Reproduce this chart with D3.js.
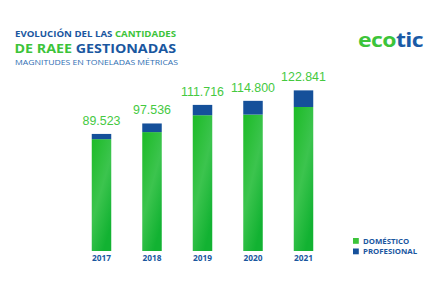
<!DOCTYPE html>
<html>
<head>
<meta charset="utf-8">
<script src="https://cdn.jsdelivr.net/npm/d3@7"></script>
<style>
  html, body { margin: 0; padding: 0; background: #fff; }
  svg { display: block; }
</style>
</head>
<body>
<div id="chart"></div>
<script>
// tonnes per year
var years = ["2017", "2018", "2019", "2020", "2021"];
var domestico = [85500, 90900, 103800, 104300, 110100];
var profesional = [4000, 6600, 7900, 10500, 12700];
var totales = [89523, 97536, 111716, 114800, 122841];
var seriesNames = ["DOMÉSTICO", "PROFESIONAL"];

var width = 440, height = 290;
var green = "#3cc43a", blue = "#1a579f", barBlue = "#15509a";

var svg = d3.select("#chart").append("svg")
    .attr("width", width)
    .attr("height", height);

// green bars have a soft gradient
var defs = svg.append("defs");
var grad = defs.append("linearGradient")
    .attr("id", "greenGrad")
    .attr("x1", "0").attr("y1", "0").attr("x2", "0.6").attr("y2", "1");
grad.append("stop").attr("offset", "0%").attr("stop-color", "#1cbb26");
grad.append("stop").attr("offset", "55%").attr("stop-color", "#3cc44e");
grad.append("stop").attr("offset", "100%").attr("stop-color", "#12b232");

var x = d3.scaleBand()
    .domain(years)
    .range([76.25, 328.75])
    .paddingInner(0.614)
    .paddingOuter(0.307);

var y = d3.scaleLinear()
    .domain([0, 130000])
    .range([251, 251 - 130 * 1.308]);

var rows = years.map(function(yr, i) {
  return {year: yr, DOMÉSTICO: domestico[i], PROFESIONAL: profesional[i], total: totales[i]};
});
var stacked = d3.stack().keys(seriesNames)(rows);
var fills = {"DOMÉSTICO": "url(#greenGrad)", "PROFESIONAL": barBlue};

svg.append("g").selectAll("g")
    .data(stacked)
    .enter().append("g")
    .attr("fill", function(d) { return fills[d.key]; })
    .selectAll("rect")
    .data(function(d) { return d; })
    .enter().append("rect")
    .attr("x", function(d) { return x(d.data.year); })
    .attr("width", x.bandwidth())
    .attr("y", function(d) { return y(d[1]); })
    .attr("height", function(d) { return y(d[0]) - y(d[1]); });

// totals above bars, spanish number format
var es = d3.formatLocale({decimal: ",", thousands: ".", grouping: [3], currency: ["", " €"]});
var fmt = es.format(",");

svg.append("g").selectAll("text")
    .data(rows)
    .enter().append("text")
    .attr("x", function(d) { return x(d.year) + x.bandwidth() / 2; })
    .attr("y", function(d) { return y(d.DOMÉSTICO + d.PROFESIONAL) - 9; })
    .attr("text-anchor", "middle")
    .style("font", "12.4px 'Liberation Sans', Arial, sans-serif")
    .style("fill", "#45c93f")
    .text(function(d) { return fmt(d.total); });

// year labels
svg.append("g").selectAll("text")
    .data(years)
    .enter().append("text")
    .attr("x", function(d) { return x(d) + x.bandwidth() / 2; })
    .attr("y", 260.5)
    .attr("text-anchor", "middle")
    .style("font", "bold 8.3px 'Open Sans', sans-serif")
    .style("fill", blue)
    .text(function(d) { return d; });

// titles
var t1 = svg.append("text")
    .attr("x", 15).attr("y", 37.3)
    .attr("textLength", 161).attr("lengthAdjust", "spacingAndGlyphs")
    .style("font", "bold 9px 'Open Sans', sans-serif");
t1.append("tspan").style("fill", blue).text("EVOLUCIÓN DEL LAS ");
t1.append("tspan").style("fill", green).text("CANTIDADES");

var t2 = svg.append("text")
    .attr("x", 14.5).attr("y", 53)
    .attr("textLength", 161.5).attr("lengthAdjust", "spacingAndGlyphs")
    .style("font", "bold 12.5px 'Open Sans', sans-serif");
t2.append("tspan").style("fill", green).text("DE RAEE ");
t2.append("tspan").style("fill", blue).text("GESTIONADAS");

svg.append("text")
    .attr("x", 15).attr("y", 65.3)
    .attr("textLength", 163).attr("lengthAdjust", "spacingAndGlyphs")
    .style("font", "7.6px 'Open Sans', sans-serif")
    .style("fill", "#2f6fb3")
    .text("MAGNITUDES EN TONELADAS MÉTRICAS");

// logo
var logo = svg.append("text")
    .attr("x", 358).attr("y", 46.7)
    .attr("textLength", 65).attr("lengthAdjust", "spacingAndGlyphs")
    .style("font", "bold 19px 'Open Sans', sans-serif")
    .style("letter-spacing", "-0.5px");
logo.append("tspan").style("fill", "#3cc43a").text("eco");
logo.append("tspan").style("fill", "#1a5aa6").text("tic");

// legend
var legColors = [green, barBlue];
var leg = svg.append("g").selectAll("g")
    .data(seriesNames)
    .enter().append("g")
    .attr("transform", function(d, i) { return "translate(353," + (238 + i * 10.5) + ")"; });
leg.append("rect")
    .attr("width", 5.8).attr("height", 5.8)
    .attr("fill", function(d, i) { return legColors[i]; });
leg.append("text")
    .attr("x", 10).attr("y", 5.6)
    .style("font", "bold 7.8px 'Open Sans', sans-serif")
    .style("fill", blue)
    .text(function(d) { return d; });
</script>
</body>
</html>
